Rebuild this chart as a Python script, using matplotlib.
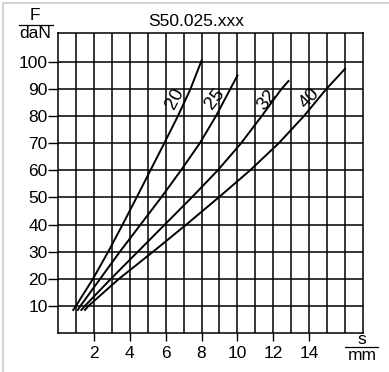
import matplotlib.pyplot as plt
from matplotlib.lines import Line2D

plt.rcParams['font.family'] = ['Liberation Sans', 'DejaVu Sans']

# spring force F (daN) against travel s (mm), one curve per size
F = [8.5, 10, 20, 30, 40, 50, 60, 70, 80, 90]
s20 = [0.85, 1.0, 1.95, 2.8, 3.6, 4.38, 5.15, 5.92, 6.68, 7.38]
s25 = [1.1, 1.25, 2.35, 3.45, 4.6, 5.75, 6.85, 7.9, 8.8, 9.6]
s32 = [1.3, 1.5, 2.95, 4.45, 5.95, 7.45, 8.9, 10.2, 11.35, 12.45]
s40 = [1.5, 1.7, 3.4, 5.3, 7.15, 8.95, 10.7, 12.3, 13.7, 14.95]
end20 = (8.0, 100.5)
end25 = (10.0, 95.0)
end32 = (12.85, 93.0)
end40 = (16.0, 97.5)
sizes = ['20', '25', '32', '40']

y_ticks = [10, 20, 30, 40, 50, 60, 70, 80, 90, 100]
x_ticks = [2, 4, 6, 8, 10, 12, 14]

fs = 12.5

fig = plt.figure(figsize=(3.89, 3.72), dpi=100)
ax = fig.add_axes([58 / 389, 39 / 372, 305 / 389, 300 / 372])
ax.set_xlim(0, 17)
ax.set_ylim(0, 110.7)

# grid: every mm and every 10 daN
for xv in range(1, 17):
    ax.axvline(xv, color='k', lw=1.1, zorder=1)
for yv in y_ticks:
    ax.axhline(yv, color='k', lw=1.1, zorder=1)
for sp in ax.spines.values():
    sp.set_linewidth(1.1)

curves = [(s20, end20), (s25, end25), (s32, end32), (s40, end40)]
for xs, end in curves:
    ax.plot(xs + [end[0]], F + [end[1]], color='k', lw=1.4, zorder=3,
            solid_joinstyle='round')

# size labels along the curves
lab_pos = [(6.5, 86.5, 62), (8.75, 86.5, 52), (11.65, 86.0, 52), (14.0, 86.5, 46)]
for name, (lx, ly, rot) in zip(sizes, lab_pos):
    ax.text(lx, ly, name, fontsize=13.5, rotation=rot, ha='center', va='center',
            rotation_mode='anchor', zorder=4)

ax.set_yticks(y_ticks)
ax.set_xticks(x_ticks)
ax.tick_params(axis='y', length=7.5, width=1.0, pad=0, labelsize=fs)
ax.tick_params(axis='x', length=6, width=1.0, pad=3, labelsize=fs)

# axis titles written as fractions
fig.text(35 / 389, 1 - 15 / 372, 'F', ha='center', va='center', fontsize=fs)
fig.add_artist(Line2D([19 / 389, 53 / 389], [1 - 25 / 372, 1 - 25 / 372], color='k', lw=0.9))
fig.text(35 / 389, 1 - 34 / 372, 'daN', ha='center', va='center', fontsize=fs)

fig.text(362 / 389, 1 - 339 / 372, 's', ha='center', va='center', fontsize=fs)
fig.add_artist(Line2D([345 / 389, 378 / 389], [1 - 347 / 372, 1 - 347 / 372], color='k', lw=0.9))
fig.text(362 / 389, 1 - 356 / 372, 'mm', ha='center', va='center', fontsize=fs)

fig.text(196 / 389, 1 - 22 / 372, 'S50.025.xxx', ha='center', va='center', fontsize=fs)

# thin grey frame on top and left edge
fig.add_artist(Line2D([3 / 389, 1], [1 - 3 / 372, 1 - 3 / 372], color='#d4d4d4', lw=1.5))
fig.add_artist(Line2D([3 / 389, 3 / 389], [0, 1 - 3 / 372], color='#d4d4d4', lw=1.5))

fig.savefig('out.png', dpi=100)
